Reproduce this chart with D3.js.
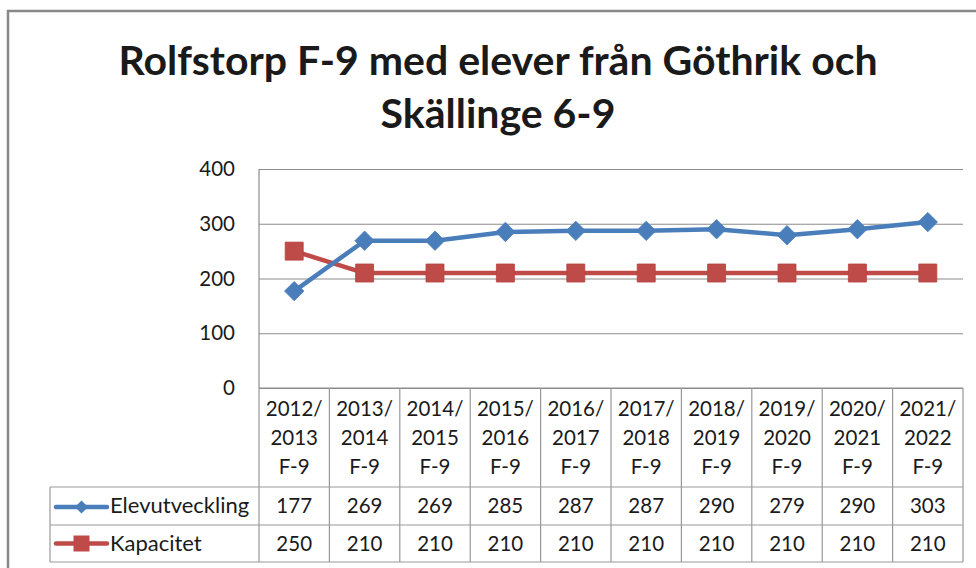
<!DOCTYPE html>
<html><head><meta charset="utf-8">
<script src="https://cdn.jsdelivr.net/npm/d3@7"></script>
<style>
html,body{margin:0;padding:0;background:#fff;}
svg text{font-family:Lato,"Open Sans",sans-serif;fill:#1a1a1a;}
</style></head><body>
<svg id="c" width="976" height="568"></svg>
<script>
const titleLines = ["Rolfstorp F-9 med elever från Göthrik och", "Skällinge 6-9"];
const categories = ["2012/2013", "2013/2014", "2014/2015", "2015/2016", "2016/2017", "2017/2018", "2018/2019", "2019/2020", "2020/2021", "2021/2022"];
const categoryLabels = [
  ["2012/", "2013", "F-9"], ["2013/", "2014", "F-9"], ["2014/", "2015", "F-9"], ["2015/", "2016", "F-9"],
  ["2016/", "2017", "F-9"], ["2017/", "2018", "F-9"], ["2018/", "2019", "F-9"], ["2019/", "2020", "F-9"],
  ["2020/", "2021", "F-9"], ["2021/", "2022", "F-9"]
];
const seriesNames = ["Elevutveckling", "Kapacitet"];
const elevutveckling = [177, 269, 269, 285, 287, 287, 290, 279, 290, 303];
const kapacitet = [250, 210, 210, 210, 210, 210, 210, 210, 210, 210];
const yTicks = [0, 100, 200, 300, 400];

const svg = d3.select("#c");
const L = 259, R = 963, T = 169, B = 388;
const tableLeft = 50, row1 = 487, row2 = 525, row3 = 562;
const gridColor = "#8c8c8c", tableColor = "#999";
const blue = "#4a7ebb", red = "#be4b48";

// outer frame
svg.append("rect").attr("x", 8).attr("y", 11).attr("width", 1000).attr("height", 600)
  .attr("fill", "none").attr("stroke", "#888").attr("stroke-width", 2.5);

// title
svg.append("text").attr("x", 498).attr("y", 75).attr("text-anchor", "middle")
  .style("font-weight", "700").style("font-size", "41px").text(titleLines[0]);
svg.append("text").attr("x", 498).attr("y", 128).attr("text-anchor", "middle")
  .style("font-weight", "700").style("font-size", "41px").text(titleLines[1]);

const x = d3.scaleBand().domain(categories).range([L, R]);
const y = d3.scaleLinear().domain([0, 400]).range([B, T]);
const cx = c => x(c) + x.bandwidth() / 2;

// y axis with gridlines
const yAxis = d3.axisLeft(y).tickValues(yTicks).tickSize(-(R - L)).tickPadding(24).tickFormat(d3.format("d"));
const ga = svg.append("g").attr("transform", `translate(${L},0)`).call(yAxis);
ga.select(".domain").attr("stroke", gridColor).attr("stroke-width", 1.2).attr("d", `M0,${T}V${B}`);
ga.selectAll(".tick line").attr("stroke", gridColor).attr("stroke-width", 1.2);
ga.selectAll(".tick text").style("font-size", "20.5px").style("font-family", "Lato, sans-serif").attr("fill", "#1a1a1a");

// table lines
const tg = svg.append("g").attr("stroke", tableColor).attr("stroke-width", 1.2).attr("fill", "none");
tg.append("line").attr("x1", L).attr("x2", R).attr("y1", B).attr("y2", B).attr("stroke", gridColor);
[row1, row2, row3].forEach(yy => tg.append("line").attr("x1", tableLeft).attr("x2", R).attr("y1", yy).attr("y2", yy));
tg.append("line").attr("x1", tableLeft).attr("x2", tableLeft).attr("y1", row1).attr("y2", row3);
const bounds = categories.map(c => x(c)).concat([R]);
bounds.forEach(bx => tg.append("line").attr("x1", bx).attr("x2", bx).attr("y1", B).attr("y2", row3));

// category labels
const lineBase = [416, 445, 474];
categories.forEach((c, i) => {
  categoryLabels[i].forEach((t, j) => {
    svg.append("text").attr("x", cx(c)).attr("y", lineBase[j]).attr("text-anchor", "middle")
      .style("font-size", "20.5px").text(t);
  });
});

// data values
const rowsData = [elevutveckling, kapacitet];
const rowBase = [513, 551];
rowsData.forEach((vals, r) => {
  categories.forEach((c, i) => {
    svg.append("text").attr("x", cx(c)).attr("y", rowBase[r]).attr("text-anchor", "middle")
      .style("font-size", "20.5px").text(vals[i]);
  });
});

// lines
const lineGen = d3.line().x((d, i) => cx(categories[i])).y(d => y(d));
svg.append("path").datum(kapacitet).attr("d", lineGen).attr("fill", "none").attr("stroke", red).attr("stroke-width", 4.5).attr("stroke-linejoin", "round");
svg.append("path").datum(elevutveckling).attr("d", lineGen).attr("fill", "none").attr("stroke", blue).attr("stroke-width", 4.5).attr("stroke-linejoin", "round");

const sqSym = d3.symbol().type(d3.symbolSquare);
const diaSym = d3.symbol().type(d3.symbolDiamond2);
svg.selectAll(".sq").data(kapacitet).join("path").attr("class", "sq")
  .attr("d", sqSym.size(18 * 18)())
  .attr("transform", (d, i) => `translate(${cx(categories[i])},${y(d)})`)
  .attr("fill", red).attr("stroke", "#b8413e").attr("stroke-width", 0.8);
svg.selectAll(".dm").data(elevutveckling).join("path").attr("class", "dm")
  .attr("d", diaSym.size(15.5 * 15.5)())
  .attr("transform", (d, i) => `translate(${cx(categories[i])},${y(d)})`)
  .attr("fill", blue).attr("stroke", blue).attr("stroke-width", 0.8);

// legend keys in table
const keyY = [row1 + (row2 - row1) / 2 + 1, row2 + (row3 - row2) / 2];
const keyCols = [blue, red];
keyY.forEach((ky, r) => {
  svg.append("line").attr("x1", 56).attr("x2", 107).attr("y1", ky).attr("y2", ky)
    .attr("stroke", keyCols[r]).attr("stroke-width", 4.5).attr("stroke-linecap", "round");
  svg.append("path").attr("d", r === 0 ? d3.symbol().type(d3.symbolDiamond2).size(10.5 * 10.5)() : d3.symbol().type(d3.symbolSquare).size(16 * 16)())
    .attr("transform", `translate(81.5,${ky})`).attr("fill", keyCols[r]);
  svg.append("text").attr("x", 110).attr("y", rowBase[r]).style("font-size", "22px").text(seriesNames[r]);
});
</script>
</body></html>
